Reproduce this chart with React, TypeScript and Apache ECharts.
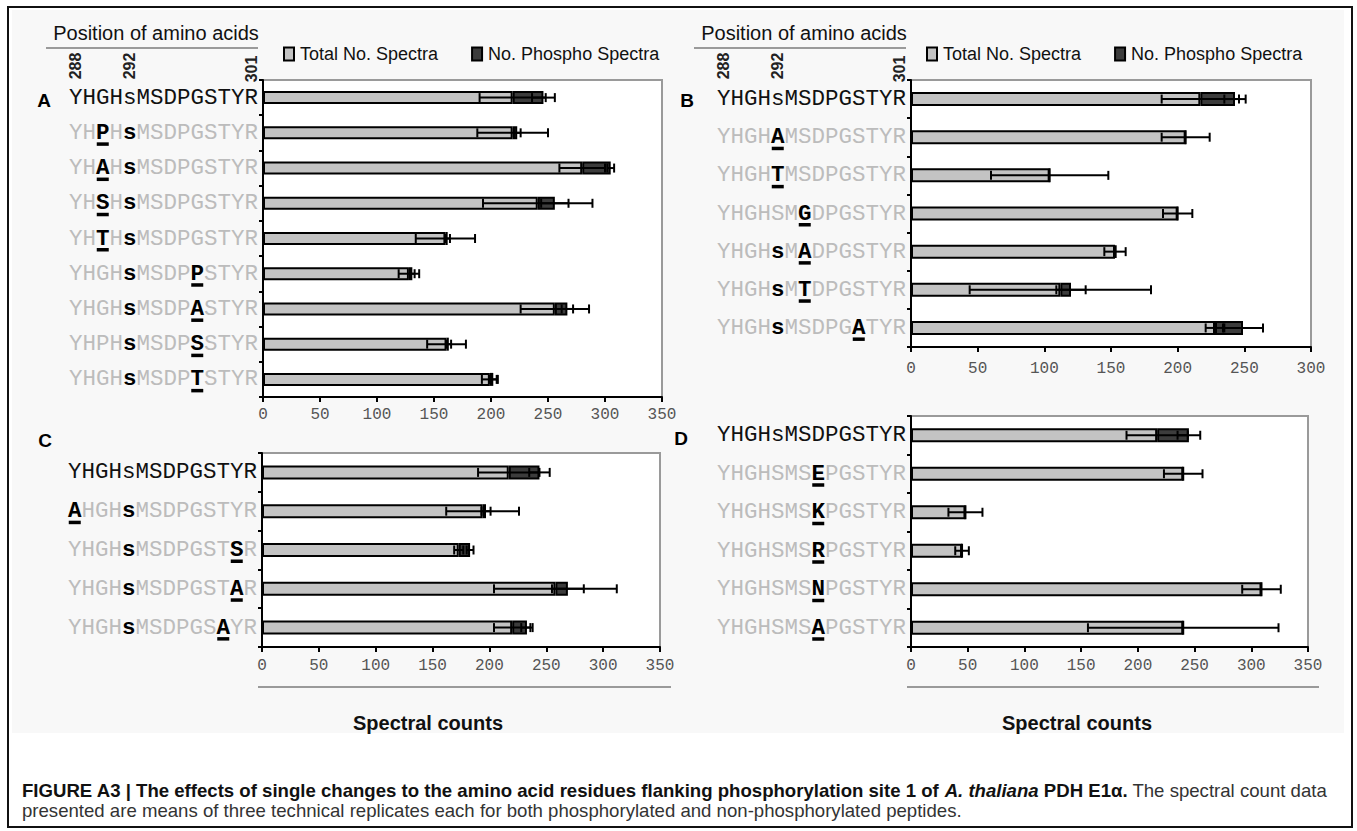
import React, { useEffect, useRef } from 'react';
import * as echarts from 'echarts';

const MONO = "'Liberation Mono', 'Courier New', monospace";
const SANS = "'Liberation Sans', Arial, Helvetica, sans-serif";
const SEQ_FONT = 22.5;
const CW = SEQ_FONT * 0.6;
const BAR_W = 12;

// ---------- Data ----------
const legendNames = ['Total No. Spectra', 'No. Phospho Spectra'];
const xTicks = [0, 50, 100, 150, 200, 250, 300, 350];

// Panel A
const categoriesA = ['YHGHsMSDPGSTYR', 'YHPHsMSDPGSTYR', 'YHAHsMSDPGSTYR', 'YHSHsMSDPGSTYR', 'YHTHsMSDPGSTYR', 'YHGHsMSDPPSTYR', 'YHGHsMSDPASTYR', 'YHPHsMSDPSSTYR', 'YHGHsMSDPTSTYR'];
const mutA = [-1, 2, 2, 2, 2, 9, 9, 9, 9];
const totalA = [219, 219, 280, 241, 160, 128, 256, 161, 199];
const totalErrA = [29, 31, 20, 48, 26, 9, 30, 17, 7];
const phosphoA = [27, 4, 25, 15, 2, 3, 11, 2, 3];
const phosphoErrA = [10, 3, 3, 12, 2, 2, 5, 2, 3];

// Panel B
const categoriesB = ['YHGHsMSDPGSTYR', 'YHGHAMSDPGSTYR', 'YHGHTMSDPGSTYR', 'YHGHSMGDPGSTYR', 'YHGHsMADPGSTYR', 'YHGHsMTDPGSTYR', 'YHGHsMSDPGATYR'];
const mutB = [-1, 4, 4, 6, 6, 6, 10];
const totalB = [217, 206, 104, 200, 153, 112, 228];
const totalErrB = [29, 18, 44, 11, 8, 68, 7];
const phosphoB = [26, 0, 0, 0, 1, 8, 21];
const phosphoErrB = [8, 0, 0, 0, 0, 11, 15];

// Panel C
const categoriesC = ['YHGHsMSDPGSTYR', 'AHGHsMSDPGSTYR', 'YHGHsMSDPGSTSR', 'YHGHsMSDPGSTAR', 'YHGHsMSDPGSAYR'];
const mutC = [-1, 0, 12, 12, 11];
const totalC = [217, 194, 173, 258, 220];
const totalErrC = [27, 32, 4, 54, 16];
const phosphoC = [27, 3, 10, 11, 13];
const phosphoErrC = [9, 4, 3, 14, 5];

// Panel D
const categoriesD = ['YHGHsMSDPGSTYR', 'YHGHSMSEPGSTYR', 'YHGHSMSKPGSTYR', 'YHGHSMSRPGSTYR', 'YHGHSMSNPGSTYR', 'YHGHSMSAPGSTYR'];
const mutD = [-1, 7, 7, 7, 7, 7];
const totalD = [217, 240, 48, 45, 309, 240];
const totalErrD = [27, 17, 15, 6, 17, 84];
const phosphoD = [28, 0, 0, 0, 0, 0];
const phosphoErrD = [10, 0, 0, 0, 0, 0];

const positionLabels = ['288', '292', '301'];
const positionIndex = [0, 4, 13];

// ---------- Layout ----------
const panels = [
  { letter: 'A', cats: categoriesA, mut: mutA, total: totalA, totalErr: totalErrA, phos: phosphoA, phosErr: phosphoErrA, max: 350, grid: { left: 263, top: 80, width: 399, height: 317 }, tickMargin: 10, barWidth: 13 },
  { letter: 'B', cats: categoriesB, mut: mutB, total: totalB, totalErr: totalErrB, phos: phosphoB, phosErr: phosphoErrB, max: 300, grid: { left: 911, top: 80, width: 400, height: 267 }, tickMargin: 14, barWidth: 14 },
  { letter: 'C', cats: categoriesC, mut: mutC, total: totalC, totalErr: totalErrC, phos: phosphoC, phosErr: phosphoErrC, max: 350, grid: { left: 262, top: 453, width: 398, height: 194 }, tickMargin: 11, barWidth: 14 },
  { letter: 'D', cats: categoriesD, mut: mutD, total: totalD, totalErr: totalErrD, phos: phosphoD, phosErr: phosphoErrD, max: 350, grid: { left: 911, top: 416, width: 397, height: 231 }, tickMargin: 11, barWidth: 14 },
];

const seqRich: any = {
  g: { color: '#bcbcbc', fontFamily: MONO, fontSize: SEQ_FONT, lineHeight: 19, align: 'right' },
  k: { color: '#111', fontFamily: MONO, fontSize: SEQ_FONT, lineHeight: 19, align: 'right' },
  m: { color: '#000', fontFamily: MONO, fontSize: SEQ_FONT, fontWeight: 'bold', lineHeight: 19, align: 'right' },
  u: { width: BAR_W, height: 3.5, lineHeight: 3.5, fontSize: 1, backgroundColor: '#000', align: 'right' },
  ux: { width: 1, height: 3.5, lineHeight: 3.5, fontSize: 1, align: 'right' },
};
for (let k = 0; k < 14; k++) {
  seqRich['p' + k] = { width: k * CW + (CW - BAR_W) / 2, height: 3.5, lineHeight: 3.5, fontSize: 1, align: 'right' };
}

function seqFormatter(muts: number[]) {
  return (value: string, index: number) => {
    const mut = muts[index];
    const segs: [string, string][] = [];
    for (let i = 0; i < value.length; i++) {
      const ch = value[i];
      const st = mut < 0 ? 'k' : i === mut || ch === 's' ? 'm' : 'g';
      if (segs.length && segs[segs.length - 1][0] === st) segs[segs.length - 1][1] += ch;
      else segs.push([st, ch]);
    }
    const line1 = segs.map(([s, t]) => `{${s}|${t}}`).join('');
    const line2 = mut < 0 ? '{ux| }' : `{u| }{p${value.length - 1 - mut}| }`;
    return line1 + '\n' + line2;
  };
}

const errRender = (params: any, api: any) => {
  const v = api.value(0);
  const e = api.value(1);
  const c = api.value(2);
  if (!e) return null;
  const a = api.coord([v - e, c]);
  const b = api.coord([v + e, c]);
  const h = 4.5;
  const style = { stroke: '#000', lineWidth: 2 };
  return {
    type: 'group',
    children: [
      { type: 'line', shape: { x1: a[0], y1: a[1], x2: b[0], y2: b[1] }, style },
      { type: 'line', shape: { x1: a[0], y1: a[1] - h, x2: a[0], y2: a[1] + h }, style },
      { type: 'line', shape: { x1: b[0], y1: b[1] - h, x2: b[0], y2: b[1] + h }, style },
    ],
  };
};

function buildOption() {
  const grid: any[] = [];
  const xAxis: any[] = [];
  const yAxis: any[] = [];
  const series: any[] = [];
  const graphic: any[] = [];

  panels.forEach((p, i) => {
    grid.push({
      ...p.grid,
      show: true,
      backgroundColor: '#fff',
      borderColor: '#9a9a9a',
      borderWidth: 2,
      containLabel: false,
      outerBoundsMode: 'none',
    });
    xAxis.push({
      gridIndex: i,
      type: 'value',
      min: 0,
      max: p.max,
      interval: 50,
      axisLine: { show: true, lineStyle: { color: '#000', width: 2 } },
      axisTick: { show: true, length: 5, lineStyle: { color: '#000', width: 2 } },
      splitLine: { show: false },
      axisLabel: {
        color: '#555',
        fontFamily: MONO,
        fontSize: 16,
        margin: p.tickMargin,
        formatter: (v: number) => (xTicks.indexOf(v) >= 0 ? String(v) : ''),
      },
    });
    yAxis.push({
      gridIndex: i,
      type: 'category',
      inverse: true,
      data: p.cats,
      axisLine: { show: true, lineStyle: { color: '#000', width: 2 } },
      axisTick: { show: true, length: 4, lineStyle: { color: '#000', width: 2 } },
      axisLabel: {
        interval: 0,
        margin: 5,
        padding: [3.5, 0, 0, 0],
        formatter: seqFormatter(p.mut),
        rich: seqRich,
      },
    });
    series.push({
      type: 'bar',
      name: legendNames[0],
      xAxisIndex: i,
      yAxisIndex: i,
      stack: 'st' + i,
      barWidth: p.barWidth,
      data: p.total,
      itemStyle: { color: '#c3c3c3', borderColor: '#000', borderWidth: 2 },
      z: 2,
    });
    series.push({
      type: 'bar',
      name: legendNames[1],
      xAxisIndex: i,
      yAxisIndex: i,
      stack: 'st' + i,
      barWidth: p.barWidth,
      data: p.phos,
      itemStyle: { color: '#3c3c3c', borderColor: '#000', borderWidth: 2 },
      z: 2,
    });
    series.push({
      type: 'custom',
      xAxisIndex: i,
      yAxisIndex: i,
      encode: { x: 0, y: 2 },
      data: p.total.map((v, k) => [v, p.totalErr[k], k]),
      renderItem: errRender,
      z: 4,
      silent: true,
    });
    series.push({
      type: 'custom',
      xAxisIndex: i,
      yAxisIndex: i,
      encode: { x: 0, y: 2 },
      data: p.total.map((v, k) => [v + p.phos[k], p.phosErr[k], k]),
      renderItem: errRender,
      z: 4,
      silent: true,
    });
  });

  // background of the figure image
  graphic.push({ type: 'rect', z: -100, shape: { x: 12, y: 10, width: 1332, height: 723 }, style: { fill: '#f8f8f8' }, silent: true });
  // outer border
  graphic.push({ type: 'rect', z: 100, shape: { x: 8, y: 7, width: 1344, height: 820 }, style: { fill: 'none', stroke: '#111', lineWidth: 2 }, silent: true });

  // headers for A and B
  [panels[0], panels[1]].forEach((p) => {
    const right = p.grid.left - 5;
    const x0 = right - 14 * CW;
    graphic.push({
      type: 'text', x: (x0 - 15 + right) / 2, y: 33,
      style: { text: 'Position of amino acids', fontFamily: SANS, fontSize: 20, fill: '#111', align: 'center', verticalAlign: 'middle' },
    });
    graphic.push({ type: 'line', shape: { x1: x0 - 23, y1: 48, x2: right, y2: 48 }, style: { stroke: '#9a9a9a', lineWidth: 2 } });
    positionLabels.forEach((t, j) => {
      const cx = right - (14 - positionIndex[j] - 0.5) * CW;
      graphic.push({
        type: 'text', x: cx, y: j === 2 ? 69 : 66, rotation: Math.PI / 2,
        style: { text: t, fontFamily: SANS, fontSize: 16, fontWeight: 'bold', fill: '#222', align: 'center', verticalAlign: 'middle' },
      });
    });
  });

  // panel letters
  const letterPos = [[44, 100], [687, 100], [45, 440], [681, 438]];
  panels.forEach((p, i) => {
    graphic.push({
      type: 'text', x: letterPos[i][0], y: letterPos[i][1],
      style: { text: p.letter, fontFamily: SANS, fontSize: 19, fontWeight: 'bold', fill: '#000', align: 'center', verticalAlign: 'middle' },
    });
  });

  // x-axis title lines and labels for C and D
  [panels[2], panels[3]].forEach((p) => {
    graphic.push({ type: 'line', shape: { x1: p.grid.left - 4, y1: 687, x2: p.grid.left + p.grid.width + 11, y2: 687 }, style: { stroke: '#9a9a9a', lineWidth: 2 } });
    graphic.push({
      type: 'text', x: p.grid.left + 166, y: 723,
      style: { text: 'Spectral counts', fontFamily: SANS, fontSize: 20, fontWeight: 'bold', fill: '#111', align: 'center', verticalAlign: 'middle' },
    });
  });

  // caption
  const CAP = 18.6;
  graphic.push({
    type: 'text', x: 22, y: 790,
    style: {
      text: '{b|FIGURE A3 | The effects of single changes to the amino acid residues flanking phosphorylation site 1 of }{bi|A. thaliana}{b| PDH E1\u03b1.}{r| The spectral count data}',
      verticalAlign: 'middle',
      rich: {
        b: { fontFamily: SANS, fontSize: CAP, fontWeight: 'bold', fill: '#111' },
        bi: { fontFamily: SANS, fontSize: CAP, fontWeight: 'bold', fontStyle: 'italic', fill: '#111' },
        r: { fontFamily: SANS, fontSize: CAP, fill: '#333' },
      },
    },
  });
  graphic.push({
    type: 'text', x: 22, y: 810,
    style: {
      text: 'presented are means of three technical replicates each for both phosphorylated and non-phosphorylated peptides.',
      fontFamily: SANS, fontSize: CAP, fill: '#333', verticalAlign: 'middle',
    },
  });

  const legendBase = {
    data: legendNames,
    top: 45,
    padding: 0,
    icon: 'rect',
    itemWidth: 10,
    itemHeight: 13,
    itemGap: 33,
    selectedMode: false,
    textStyle: { fontFamily: SANS, fontSize: 18, color: '#111', padding: [0, 0, 0, 1] },
  };

  return {
    animation: false,
    backgroundColor: '#ffffff',
    textStyle: { fontFamily: SANS },
    grid,
    xAxis,
    yAxis,
    series,
    legend: [
      { ...legendBase, left: 283 },
      { ...legendBase, left: 926 },
    ],
    graphic: { elements: graphic },
  };
}

export default function App() {
  const ref = useRef<HTMLDivElement>(null);
  useEffect(() => {
    if (!ref.current) return;
    const chart = echarts.init(ref.current, undefined, { renderer: 'svg' });
    chart.setOption(buildOption() as any);
    return () => chart.dispose();
  }, []);
  return (
    <div
      ref={ref}
      style={{ position: 'absolute', left: 0, top: 0, width: 1357, height: 831, background: '#fff' }}
    />
  );
}
